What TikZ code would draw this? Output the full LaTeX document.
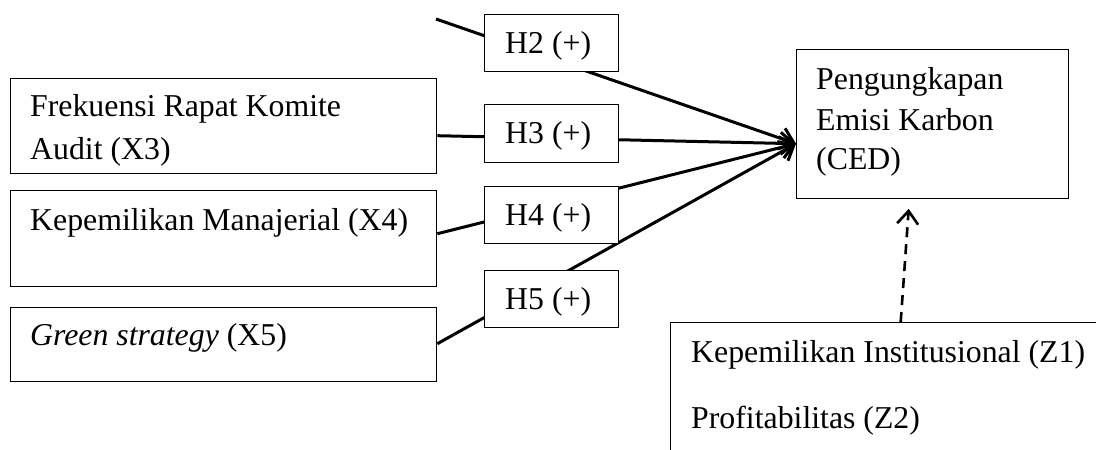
\documentclass[tikz,border=0pt]{standalone}
\usepackage{fontspec}
\setmainfont{Liberation Serif}
\usetikzlibrary{arrows.meta}
\begin{document}
\begin{tikzpicture}[x=1pt,y=-1pt,
  box/.style={draw,line width=1.4pt,fill=white,anchor=north west,inner sep=0pt},
  txt/.style={anchor=base west,inner sep=0pt,font=\fontsize{31.8}{38}\selectfont},
  conn/.style={line width=3pt,-{Straight Barb[length=13pt,width=22pt,line width=3pt]}}]
\useasboundingbox (0,0) rectangle (1096,450);
\clip (0,0) rectangle (1096,450);
% left boxes
\node[box,minimum width=426pt,minimum height=95pt] (x3) at (10,78) {};
\node[box,minimum width=426pt,minimum height=96pt] (x4) at (10,190) {};
\node[box,minimum width=426pt,minimum height=74pt] (x5) at (10,307) {};
% target
\node[box,minimum width=272pt,minimum height=149pt] (ced) at (796,49) {};
\coordinate (tip) at ([yshift=-19.5pt]ced.west);
\coordinate (x2) at (436,19);
% connectors
\draw[conn] (x2) -- (tip);
\draw[conn] ([yshift=-9.5pt]x3.east) -- (tip);
\draw[conn] ([yshift=5pt]x4.east) -- (tip);
\draw[conn] ([yshift=1pt]x5.east) -- (tip);
% hypothesis boxes
\node[box,minimum width=134pt,minimum height=57pt] (h2) at (484,14) {};
\node[box,minimum width=134pt,minimum height=58pt] (h3) at (484,104) {};
\node[box,minimum width=134pt,minimum height=57pt] (h4) at (484,186) {};
\node[box,minimum width=134pt,minimum height=57pt] (h5) at (484,270) {};
% moderator box
\node[box,minimum width=460pt,minimum height=160pt] (z) at (670,322) {};
\draw[line width=2.6pt,dash pattern=on 10pt off 7pt,-{Straight Barb[length=13pt,width=21pt,line width=2.6pt]}]
  (z.north) -- ([xshift=-24pt,yshift=-9.5pt]ced.south);
% texts
\node[txt] (t3a) at (30,116) {Frekuensi Rapat Komite};
\node[txt] (t3b) at (30,159) {Audit (X3)};
\node[txt] (t4) at (30,230) {Kepemilikan Manajerial (X4)};
\node[txt] (t5) at (30,345) {\textit{Green strategy} (X5)};
\node[txt] (th2) at (505,53) {H2 (+)};
\node[txt] (th3) at (505,143) {H3 (+)};
\node[txt] (th4) at (505,225) {H4 (+)};
\node[txt] (th5) at (505,309) {H5 (+)};
\node[txt] (tc1) at (816,89) {Pengungkapan};
\node[txt] (tc2) at (816,130) {Emisi Karbon};
\node[txt] (tc3) at (816,169) {(CED)};
\node[txt] (tz1) at (691,362) {Kepemilikan Institusional (Z1)};
\node[txt] (tz2) at (691,428) {Profitabilitas (Z2)};
\end{tikzpicture}
\end{document}
